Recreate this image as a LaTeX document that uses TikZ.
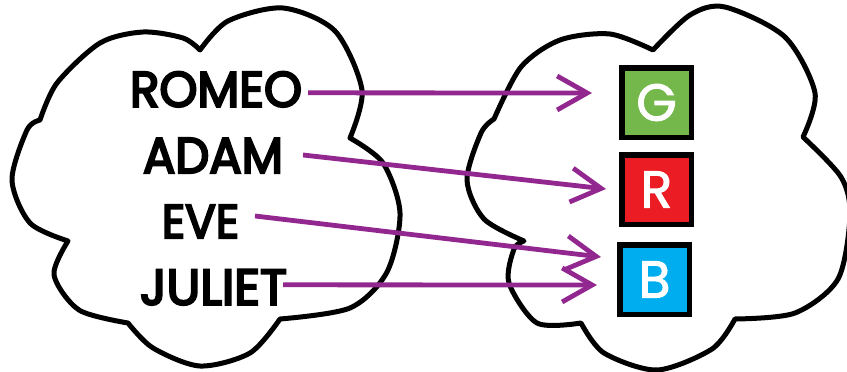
\documentclass[tikz,border=0pt]{standalone}
\usepackage{fontspec}
\setmainfont{Poppins}
\newfontfamily\namefont{Poppins}[FakeBold=4.5]
\newfontfamily\letterfont{Poppins}[FakeBold=2]
\usetikzlibrary{arrows.meta}
\definecolor{arrowpurple}{HTML}{92278F}
\definecolor{boxgreen}{HTML}{74B84B}
\definecolor{boxred}{HTML}{EC1C24}
\definecolor{boxblue}{HTML}{00AEEF}
\begin{document}
\begin{tikzpicture}[x=1pt,y=-1pt,
  cloudline/.style={line width=5pt, line join=round, draw=black},
  namebox/.style={anchor=south west, inner sep=0pt, outer sep=0pt},
  letterbox/.style={draw=black, line width=5.5pt, minimum size=69.5pt, inner sep=0pt, text=white, font=\letterfont\fontsize{52}{52}\selectfont},
  maparrow/.style={draw=arrowpurple, line width=4.8pt, -{Straight Barb[length=30pt,width=34pt,line width=4.8pt]}}
]
\useasboundingbox (0,0) rectangle (847,372);
\clip (0,0) rectangle (847,372);
% left cloud
\draw[cloudline]
  plot[smooth] coordinates {(40,120) (57,83) (100,43) (143,32) (183,38) (200,50)}
  -- plot[smooth] coordinates {(200,50) (228,21) (283,8) (335,31) (362,90) (350,138)}
  -- plot[smooth] coordinates {(350,138) (383,163) (400,213) (387,272) (350,308) (280,319)}
  -- plot[smooth] coordinates {(280,319) (250,353) (200,366) (153,348) (128,323)}
  -- plot[smooth] coordinates {(128,323) (79,310) (54,275) (68,241)}
  -- plot[smooth] coordinates {(68,241) (30,223) (12,180) (27,130) (40,120)}
  -- cycle;
% right cloud
\draw[cloudline]
  plot[smooth] coordinates {(494,119) (521,67) (560,40) (610,34) (653,50)}
  -- plot[smooth] coordinates {(653,50) (690,15) (725,7) (785,37) (815,93) (803,137)}
  -- plot[smooth] coordinates {(803,137) (841,177) (850,215) (838,279) (795,313) (735,319)}
  -- plot[smooth] coordinates {(735,319) (712,349) (657,370) (604,353) (581,323)}
  -- plot[smooth] coordinates {(581,323) (537,323) (509,283) (514,249) (524,241)}
  -- plot[smooth] coordinates {(524,241) (484,219) (467,180) (481,133) (494,119)}
  -- cycle;
% names
\node[namebox] (romeo) at (130,107) {\resizebox{172pt}{35pt}{\namefont ROMEO}};
\node[namebox] (adam) at (143,173) {\resizebox{140pt}{35pt}{\namefont ADAM}};
\node[namebox] (eve) at (162,238) {\resizebox{77pt}{33pt}{\namefont EVE}};
\node[namebox] (juliet) at (140,305) {\resizebox{147pt}{35pt}{\namefont JULIET}};
% colour boxes
\node[letterbox, fill=boxgreen] (G) at (656.5,102.5) {G};
\node[letterbox, fill=boxred] (R) at (656.5,189.5) {R};
\node[letterbox, fill=boxblue] (B) at (654.5,279.5) {B};
% arrows
\draw[maparrow] ([shift={(6,3.5)}]romeo.east) -- ([shift={(-27,-9.5)}]G.west);
\draw[maparrow] ([shift={(20,-0.5)}]adam.east) -- ([shift={(-13,-0.5)}]R.west);
\draw[maparrow] ([shift={(16,-5.5)}]eve.east) -- ([shift={(-16,-22.5)}]B.west);
\draw[maparrow] ([shift={(-4,-2.5)}]juliet.east) -- ([shift={(-20,5.5)}]B.west);
\end{tikzpicture}
\end{document}
